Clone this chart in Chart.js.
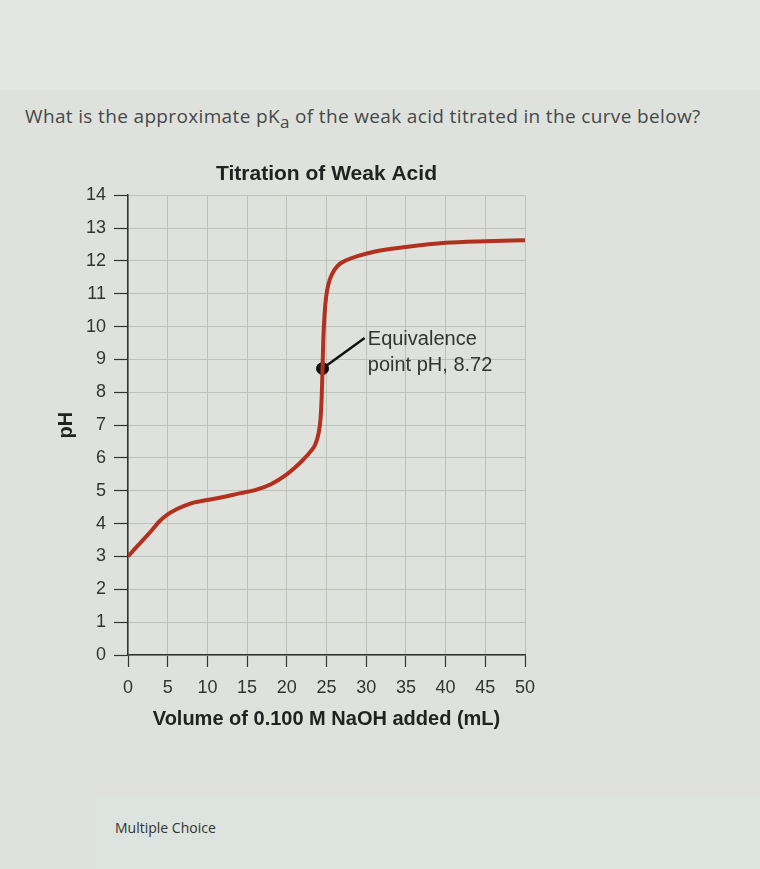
<!DOCTYPE html>
<html>
<head>
<meta charset="utf-8">
<script src="https://cdn.jsdelivr.net/npm/chart.js@4.4.1/dist/chart.umd.min.js"></script>
<style>
  html, body { margin: 0; padding: 0; }
  body { width: 760px; height: 869px; background: #dfe2dc; position: relative; overflow: hidden; font-family: "Open Sans", sans-serif; }
  #top-band { position: absolute; left: 0; top: 0; width: 760px; height: 90px; background: #e4e6e2; }
  #question { position: absolute; left: 25px; top: 103px; font-size: 19px; letter-spacing: 0.35px; color: #45484a; white-space: nowrap; }
  #question sub { font-size: 17px; vertical-align: -5px; line-height: 0; }
  #chart-wrap { position: absolute; left: 0; top: 0; width: 760px; height: 869px; }
  #mc-box { position: absolute; left: 95px; top: 797px; width: 665px; height: 72px; background: #dde3de; }
  #mc-label { position: absolute; left: 115px; top: 818px; font-size: 14px; color: #333; }
</style>
</head>
<body>
<div id="top-band"></div>
<div id="question">What is the approximate pK<sub>a</sub> of the weak acid titrated in the curve below?</div>
<div id="mc-box"></div>
<div id="mc-label">Multiple Choice</div>
<div id="chart-wrap"><canvas id="titration-chart" width="760" height="869"></canvas></div>
<script>
// ── Data ──────────────────────────────────────────────────────────────────
const volumeML = [0, 1, 2, 3, 4, 5, 6, 7, 8, 10, 12, 14, 16, 18, 20, 21, 22, 23, 23.6, 24.0, 24.25,
  24.4, 24.5, 24.6, 24.75, 24.95, 25.25, 25.7, 26.4, 27.5, 29, 31, 35, 40, 45, 50];
const phValues = [3.0, 3.27, 3.53, 3.8, 4.08, 4.28, 4.42, 4.53, 4.62, 4.72, 4.81, 4.92, 5.02, 5.2, 5.5, 5.7, 5.93, 6.2, 6.42, 6.75, 7.2,
  7.9, 8.72, 9.6, 10.35, 10.9, 11.3, 11.6, 11.85, 12.02, 12.15, 12.28, 12.42, 12.55, 12.6, 12.63];

const equivPoint = { x: 24.5, y: 8.72 };
const leaderEnd = { x: 29.8, y: 9.65 };
const equivLabel = ['Equivalence', 'point pH, 8.72'];
const labelAnchor = { x: 30.2, lines: [9.6, 8.8] };

const xTicks = [0, 5, 10, 15, 20, 25, 30, 35, 40, 45, 50];
const yTicks = [0, 1, 2, 3, 4, 5, 6, 7, 8, 9, 10, 11, 12, 13, 14];

const FONT = '"Liberation Sans", Arial, sans-serif';

// ── Label plugin for the equivalence point note ───────────────────────────
const equivLabelPlugin = {
  id: 'equivLabel',
  afterDatasetsDraw(chart) {
    const { ctx, scales: { x, y } } = chart;
    ctx.save();
    ctx.font = `20px ${FONT}`;
    ctx.fillStyle = '#333';
    ctx.textBaseline = 'middle';
    ctx.textAlign = 'left';
    equivLabel.forEach((txt, i) => {
      ctx.fillText(txt, x.getPixelForValue(labelAnchor.x), y.getPixelForValue(labelAnchor.lines[i]));
    });
    ctx.restore();
  }
};

new Chart(document.getElementById('titration-chart'), {
  type: 'line',
  data: {
    datasets: [
      {
        label: 'pH',
        data: volumeML.map((v, i) => ({ x: v, y: phValues[i] })),
        borderColor: '#b3301e',
        borderWidth: 4,
        pointRadius: 0,
        cubicInterpolationMode: 'monotone',
        fill: false
      },
      {
        label: 'leader',
        data: [equivPoint, leaderEnd],
        borderColor: '#111',
        borderWidth: 2.5,
        pointRadius: 0
      },
      {
        label: 'equivalence',
        data: [equivPoint],
        showLine: false,
        pointRadius: 6,
        pointBackgroundColor: '#111',
        pointBorderColor: '#111'
      }
    ]
  },
  options: {
    responsive: false,
    animation: false,
    layout: { padding: { left: 52, right: 235, top: 148, bottom: 134 } },
    plugins: {
      legend: { display: false },
      tooltip: { enabled: false },
      title: {
        display: true,
        fullSize: false,
        text: 'Titration of Weak Acid',
        color: '#222',
        font: { family: FONT, size: 21, weight: 'bold' },
        padding: { top: 14, bottom: 8 }
      }
    },
    scales: {
      x: {
        type: 'linear',
        min: 0, max: 50,
        afterBuildTicks: (s) => { s.ticks = xTicks.map(v => ({ value: v })); },
        afterFit: (s) => { s.height = 80; },
        grid: { color: '#bcc1b9', lineWidth: 1, tickColor: '#333', tickLength: 12, tickWidth: 1.2 },
        border: { color: '#333', width: 1.5 },
        ticks: { color: '#333', font: { family: FONT, size: 18 }, padding: 10, maxRotation: 0 },
        title: { display: true, text: 'Volume of 0.100 M NaOH added (mL)', color: '#222', font: { family: FONT, size: 20, weight: 'bold' }, padding: { top: 2 } }
      },
      y: {
        min: 0, max: 14,
        afterBuildTicks: (s) => { s.ticks = yTicks.map(v => ({ value: v })); },
        afterFit: (s) => { s.width = 76; },
        grid: { color: '#bcc1b9', lineWidth: 1, tickColor: '#333', tickLength: 14, tickWidth: 1.2 },
        border: { color: '#333', width: 1.5 },
        ticks: { color: '#333', font: { family: FONT, size: 18 }, padding: 8 },
        title: { display: true, text: 'pH', color: '#222', font: { family: FONT, size: 20, weight: 'bold' }, padding: 2 }
      }
    }
  },
  plugins: [equivLabelPlugin]
});
</script>
</body>
</html>
